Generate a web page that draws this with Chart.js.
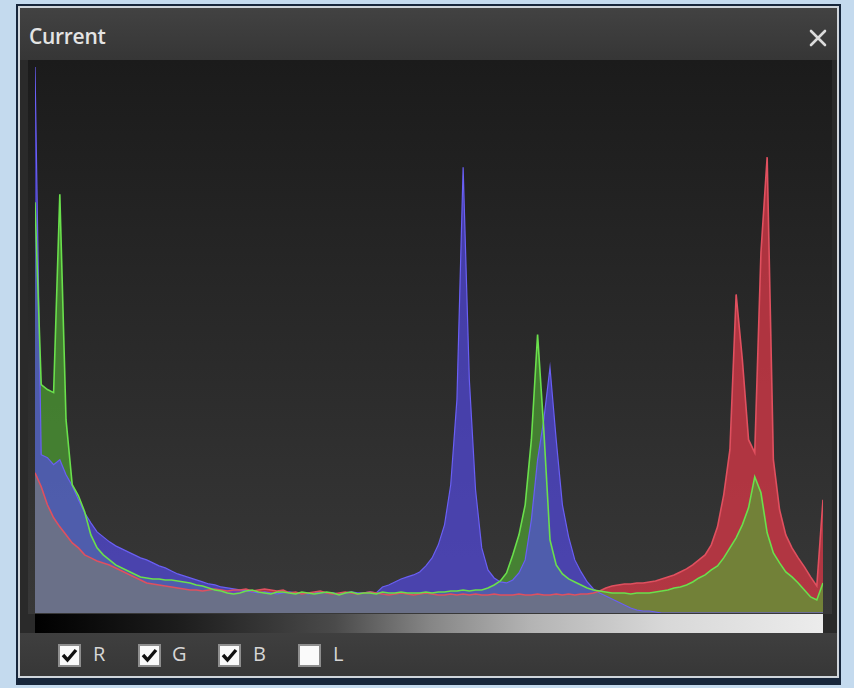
<!DOCTYPE html>
<html>
<head>
<meta charset="utf-8">
<title>Current</title>
<script src="https://cdn.jsdelivr.net/npm/chart.js@4.4.1/dist/chart.umd.min.js"></script>
<style>
  html, body { margin: 0; padding: 0; }
  body {
    width: 854px; height: 688px; overflow: hidden; position: relative;
    background: #c4daee;
    font-family: "Open Sans", "DejaVu Sans", sans-serif;
  }
  .frame { position: absolute; left: 16px; top: 4px; width: 825px; height: 681px; background: #17263b; }
  .panel {
    position: absolute; left: 18px; top: 6px; width: 817px; height: 668px;
    border: 2px solid #cfd5db; background: #2a2a2a;
  }
  .titlebar {
    position: absolute; left: 20px; top: 8px; width: 817px; height: 52px;
    background: linear-gradient(#424242, #363636);
  }
  .title {
    position: absolute; left: 29px; top: 22px; color: #e4e4e4;
    font-size: 21px; font-weight: 600; letter-spacing: -0.3px;
  }
  .close { position: absolute; left: 809px; top: 29px; }
  .plotbg {
    position: absolute; left: 28px; top: 60px; width: 804px; height: 554px;
    background: linear-gradient(#1b1b1b, #383838);
  }
  #hist { position: absolute; left: 35px; top: 62px; }
  .ramp {
    position: absolute; left: 35px; top: 614px; width: 788px; height: 19px;
    background: linear-gradient(to right, #000 0%, #1c1c1c 18%, #4a4a4a 38%, #858585 50%, #b4b4b4 63%, #d8d8d8 80%, #ececec 100%);
  }
  .bottom {
    position: absolute; left: 20px; top: 633px; width: 817px; height: 43px;
    background: linear-gradient(#3f3f3f, #373737);
  }
  .cb {
    position: absolute; top: 644px; width: 19px; height: 19px;
    background: #fafafa; border: 2px solid #8e8e8e;
  }
  .cb svg { position: absolute; left: 0; top: 0; }
  .lbl { position: absolute; top: 640px; color: #d6d6d6; font-size: 20px; }
</style>
</head>
<body>
  <div class="frame"></div>
  <div class="panel"></div>
  <div class="titlebar"></div>
  <div class="title">Current</div>
  <svg class="close" width="18" height="18" viewBox="0 0 18 18">
    <path d="M2 2 L16 16 M16 2 L2 16" stroke="#dcdcdc" stroke-width="2.6" stroke-linecap="round"/>
  </svg>
  <div class="plotbg"></div>
  <canvas id="hist" width="788" height="551"></canvas>
  <div class="ramp"></div>
  <div class="bottom"></div>

  <div class="cb" style="left:58px"><svg width="19" height="19"><polyline points="3,9 7.5,14 16,4" fill="none" stroke="#111" stroke-width="3.4"/></svg></div>
  <div class="lbl" style="left:93px">R</div>
  <div class="cb" style="left:138px"><svg width="19" height="19"><polyline points="3,9 7.5,14 16,4" fill="none" stroke="#111" stroke-width="3.4"/></svg></div>
  <div class="lbl" style="left:172px">G</div>
  <div class="cb" style="left:218px"><svg width="19" height="19"><polyline points="3,9 7.5,14 16,4" fill="none" stroke="#111" stroke-width="3.4"/></svg></div>
  <div class="lbl" style="left:253px">B</div>
  <div class="cb" style="left:298px"></div>
  <div class="lbl" style="left:333px">L</div>

<script>
// ─────────── DADOS ───────────
// 128 bins (níveis 0..254, passo 2), alturas em unidades arbitrárias (máx. 550)

const levels = Array.from({ length: 128 }, (_, i) => i * 2);

const red = [
  140, 126, 108, 95, 86, 78, 70, 65, 58, 55, 52, 50, 48, 45, 42, 39, 36, 33, 30, 29,
  28, 27, 26, 25, 24, 23,
  23, 22, 23, 24, 23, 22, 23, 23, 24, 22, 23, 24, 23, 22, 23,
  20, 21, 19, 20, 21, 22, 20, 19, 20, 21, 20, 19, 20, 21, 20, 19, 18, 19, 20, 19,
  18, 19, 20, 19, 18, 18, 19, 18, 19, 18, 19, 18, 18, 19, 18,
  18, 18, 19, 18, 18, 19, 18, 18, 19, 18, 19, 18, 19, 19, 20, 22, 25, 27,
  28, 29, 29, 30, 30, 31, 32, 34, 36, 38, 41, 44, 48, 53, 58, 68, 86, 118, 163, 318,
  253, 173, 160, 360, 455, 153, 103, 78, 65, 55, 46, 36, 27, 113,
];

const green = [
  410, 228, 223, 220, 418, 193, 128, 117, 101, 78, 65, 58, 53, 48, 45, 42, 39, 36, 35, 34,
  34, 33, 33, 32, 31, 30, 28, 27, 25, 23, 22, 20, 19, 20, 22, 23, 21, 20, 19, 21,
  21,
  20, 19, 21, 20, 19, 20, 21, 20, 18, 20, 21, 19, 20, 20, 19, 21, 20, 20, 21, 20,
  20, 20, 21, 20, 21, 21, 22, 22, 23, 22, 23, 23, 25, 28, 32, 40, 58, 78, 108, 173,
  278, 183, 73, 48, 39, 34, 31, 28, 25, 23, 22, 21, 20, 20, 20, 19, 20, 20, 20, 21,
  22, 23, 25, 26, 28, 31, 35, 38, 43, 47, 55, 65, 75, 88, 105, 136, 120, 80, 60, 50,
  41, 36, 30, 23, 16, 13, 30,
];

const blue = [
  545, 158, 155, 148, 153, 138, 127, 113, 100, 90, 81, 76, 71, 67, 64, 61, 58, 55, 53, 50,
  47, 45, 42, 39, 37, 35, 33, 31, 29, 28, 26, 25, 24, 23, 22, 21,
  20, 21, 20, 19, 20, 21, 20, 20, 19, 20, 21, 20, 20, 19, 20, 21, 20, 20, 21, 20,
  26, 28, 31, 34, 36, 38, 41, 47, 55, 68, 88, 128, 213, 445, 233, 123, 65, 43, 35, 31,
  30, 33, 40, 53, 93, 153, 193, 245, 173, 108, 76, 53, 41, 31, 24, 20, 17, 14, 11, 8,
  5, 3, 2, 2, 1,
  0, 0, 0, 0, 0, 0, 0, 0, 0, 0, 0, 0, 0, 0, 0, 0, 0, 0, 0, 0, 0, 0, 0, 0, 0, 0, 0,
];

// parte comum aos três canais (aparece cinza no original)
const comum = red.map((v, i) => Math.min(v, green[i], blue[i]));

// ─────────── CHART ───────────

const TRANSP = 'rgba(0,0,0,0)';

function area(data, cor, ordem) {
  return { data, backgroundColor: cor, borderColor: TRANSP, borderWidth: 0, fill: 'origin', order: ordem };
}

function linha(data, cor, ordem, largura) {
  return { data, borderColor: cor, borderWidth: largura, fill: false, order: ordem };
}

new Chart(document.getElementById('hist'), {
  type: 'line',
  data: {
    labels: levels,
    datasets: [
      // ordem menor = desenhado por cima
      linha(green, '#6ae04c', 0, 1.6),
      linha(red, '#e0505f', 1, 1.6),
      linha(blue, '#6a5ff5', 2, 1.2),
      area(comum, 'rgb(106,112,136)', 3),
      area(blue, 'rgba(85,75,235,0.66)', 4),
      area(green, 'rgba(80,170,50,0.65)', 5),
      area(red, 'rgba(205,55,70,0.82)', 6),
    ],
  },
  options: {
    responsive: false,
    animation: false,
    layout: { padding: 0 },
    elements: {
      point: { radius: 0, hoverRadius: 0 },
      line: { tension: 0 },
    },
    plugins: {
      legend: { display: false },
      tooltip: { enabled: false },
    },
    scales: {
      x: { display: false },
      y: { display: false, min: 0, max: 550 },
    },
  },
});
</script>
</body>
</html>
